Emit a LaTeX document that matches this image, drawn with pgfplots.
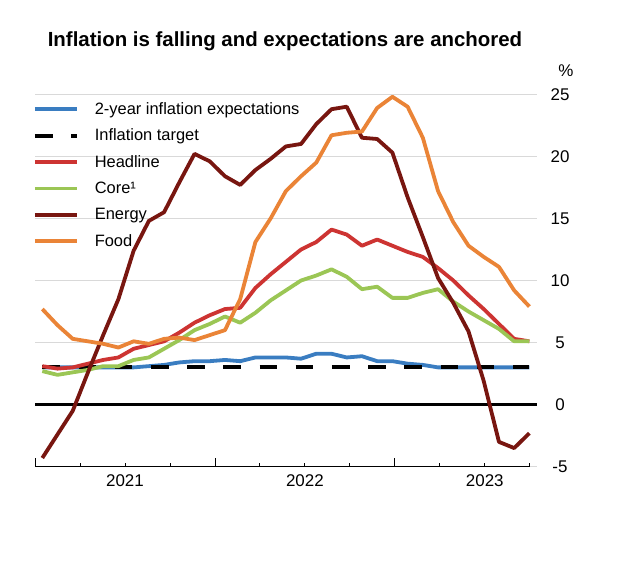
\documentclass[border=0pt]{standalone}
\usepackage{fontspec}
\setmainfont{Liberation Sans}
\usepackage{pgfplots}
\usepackage{pgfplotstable}
\pgfplotsset{compat=1.18}
\definecolor{cblue}{RGB}{58,125,193}
\definecolor{cred}{RGB}{205,52,50}
\definecolor{cgreen}{RGB}{155,198,85}
\definecolor{cenergy}{RGB}{120,22,16}
\definecolor{cfood}{RGB}{234,132,55}
\definecolor{gridgray}{RGB}{217,217,217}
\pgfplotstableread{
m exp tgt head core energy food
0 3.0 3 3.1 2.7 -4.3 7.7
1 3.0 3 2.9 2.4 -2.4 6.4
2 3.0 3 3.0 2.6 -0.5 5.3
3 3.0 3 3.3 2.8 2.6 5.1
4 3.0 3 3.6 3.1 5.6 4.9
5 3.0 3 3.8 3.1 8.5 4.6
6 3.0 3 4.5 3.6 12.4 5.1
7 3.1 3 4.8 3.8 14.8 4.9
8 3.2 3 5.1 4.5 15.5 5.3
9 3.4 3 5.8 5.2 17.9 5.4
10 3.5 3 6.6 6.0 20.2 5.2
11 3.5 3 7.2 6.5 19.6 5.6
12 3.6 3 7.7 7.1 18.4 6.0
13 3.5 3 7.8 6.6 17.7 8.5
14 3.8 3 9.4 7.4 18.9 13.1
15 3.8 3 10.5 8.4 19.8 15.0
16 3.8 3 11.5 9.2 20.8 17.2
17 3.7 3 12.5 10.0 21.0 18.4
18 4.1 3 13.1 10.4 22.6 19.5
19 4.1 3 14.1 10.9 23.8 21.7
20 3.8 3 13.7 10.3 24.0 21.9
21 3.9 3 12.8 9.3 21.5 22.0
22 3.5 3 13.3 9.5 21.4 23.9
23 3.5 3 12.8 8.6 20.3 24.8
24 3.3 3 12.3 8.6 16.7 24.0
25 3.2 3 11.9 9.0 13.5 21.5
26 3.0 3 11.0 9.3 10.2 17.2
27 3.0 3 10.0 8.3 8.2 14.7
28 3.0 3 8.8 7.5 5.9 12.8
29 3.0 3 7.7 6.8 1.9 11.9
30 3.0 3 6.5 6.1 -3.0 11.1
31 3.0 3 5.3 5.1 -3.5 9.2
32 3.0 3 5.1 5.1 -2.3 7.9
}\data
\begin{document}
\begin{tikzpicture}
\path[use as bounding box] (-35bp,-101.3bp) rectangle (595bp,466.7bp);
\begin{axis}[
  at={(0,0)}, anchor=south west, scale only axis,
  width=501.7bp, height=372.4bp,
  xmin=-0.48, xmax=32.48, ymin=-5, ymax=25,
  axis line style={draw=none},
  clip=false,
  xtick={-0.48,11.34,23.16}, xticklabels={},
  minor xtick={2.475,5.43,8.385,14.295,17.25,20.205,26.115,29.07,32.025},
  major tick length=9bp, minor tick length=4bp,
  xtick pos=lower, tick align=inside,
  xtick style={black, line width=0.8bp},
  minor x tick style={black, line width=0.8bp},
  extra x ticks={5.43,17.25,29.07},
  extra x tick labels={2021,2022,2023},
  extra x tick style={major tick length=0pt, xticklabel style={font=\fontsize{17}{17}\selectfont, yshift=-4bp}},
  ytick={-5,0,5,10,15,20,25},
  yticklabels={-5,0,5,10,15,20,25},
  ytick pos=right, yticklabel pos=right,
  ytick style={draw=none},
  yticklabel style={anchor=center, xshift=23.3bp, font=\fontsize{17}{17}\selectfont},
  ymajorgrids, grid style={color=gridgray, line width=1bp},
  legend cell align=left,
  legend image code/.code={\draw[#1] (0bp,5bp) -- (42bp,5bp);},
  legend style={draw=none, fill=none, inner sep=0pt, outer sep=0pt,
    at={(-0.004,0.977)}, anchor=north west,
    row sep=11.4bp,
    nodes={inner sep=0pt, text height=11.5bp, text depth=3.5bp, anchor=base west},
    font=\fontsize{16.5}{18}\selectfont,
    /tikz/every odd column/.append style={column sep=16bp}},
]
\draw[black, line width=0.8bp] (axis cs:-0.48,-5) -- (axis cs:32.025,-5);
\addplot[black, line width=3bp, forget plot] coordinates {(-0.48,0) (32.48,0)};
\addplot[cblue, line width=3.8bp, line join=round] table[x=m, y=exp] {\data};
\addplot[black, line width=3.8bp, dash pattern=on 17.7bp off 18.5bp] table[x=m, y=tgt] {\data};
\addplot[cred, line width=3.8bp, line join=round] table[x=m, y=head] {\data};
\addplot[cgreen, line width=3.8bp, line join=round] table[x=m, y=core] {\data};
\addplot[cenergy, line width=3.8bp, line join=round] table[x=m, y=energy] {\data};
\addplot[cfood, line width=3.8bp, line join=round] table[x=m, y=food] {\data};
\legend{2-year inflation expectations, Inflation target, Headline, Core¹, Energy, Food}
\end{axis}
\node[anchor=base, font=\bfseries\fontsize{20.5}{24}\selectfont] at (250bp,419.7bp) {Inflation is falling and expectations are anchored};
\node[anchor=base, font=\fontsize{17}{17}\selectfont] at (531bp,389.7bp) {\%};
\end{tikzpicture}
\end{document}
